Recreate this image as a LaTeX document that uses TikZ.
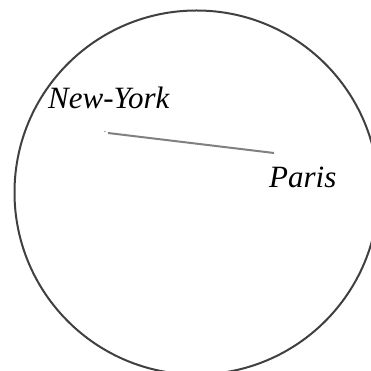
\documentclass[tikz,border=0pt]{standalone}
\usepackage{fontspec}
\setmainfont{Liberation Serif}
\begin{document}
\begin{tikzpicture}[x=1pt,y=1pt,
  city/.style={inner sep=0pt,anchor=base west,font=\fontsize{31}{37}\selectfont\itshape},
  globe/.style={draw=black!75,line width=2pt},
  route/.style={draw=black!50,line width=2pt}]
\useasboundingbox (0,0) rectangle (371,371);
\clip (0,0) rectangle (371,371);
\draw[globe] (196.5,178.5) circle (182);
\node[city] (ny) at (48,262) {New-York};
\node[city] (pa) at (269,183) {Paris};
\coordinate (a) at (108,238);
\coordinate (b) at (274,218);
\fill[black!35] (105,239.5) circle (0.8);
\draw[route] (a) -- (b);
\end{tikzpicture}
\end{document}
